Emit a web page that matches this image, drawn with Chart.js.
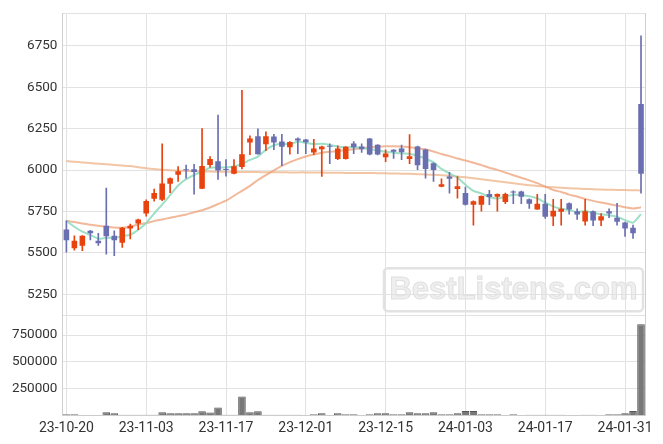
<!DOCTYPE html>
<html>
<head>
<meta charset="utf-8">
<script src="https://cdn.jsdelivr.net/npm/chart.js@4.4.1/dist/chart.umd.min.js"></script>
<style>
  html, body { margin: 0; padding: 0; background: #fff; }
</style>
</head>
<body>
<canvas id="chart" width="663" height="444"></canvas>
<script>
const dates = [
  '23-10-20','23-10-23','23-10-24','23-10-25','23-10-26','23-10-27','23-10-30','23-10-31','23-11-01','23-11-02',
  '23-11-03','23-11-06','23-11-07','23-11-08','23-11-09','23-11-10','23-11-13','23-11-14','23-11-15','23-11-16',
  '23-11-17','23-11-20','23-11-21','23-11-22','23-11-23','23-11-24','23-11-27','23-11-28','23-11-29','23-11-30',
  '23-12-01','23-12-04','23-12-05','23-12-06','23-12-07','23-12-08','23-12-11','23-12-12','23-12-13','23-12-14',
  '23-12-15','23-12-18','23-12-19','23-12-20','23-12-21','23-12-22','23-12-26','23-12-27','23-12-28','24-01-02',
  '24-01-03','24-01-04','24-01-05','24-01-08','24-01-09','24-01-10','24-01-11','24-01-12','24-01-15','24-01-16',
  '24-01-17','24-01-18','24-01-19','24-01-22','24-01-23','24-01-24','24-01-25','24-01-26','24-01-29','24-01-30',
  '24-01-31','24-02-01','24-02-02'
];

const opens = [
  5642,5528,5543,5634,5574,5664,5603,5561,5648,5678,
  5738,5827,5821,5917,5971,6005,6005,5887,6030,6053,
  6007,5977,6019,6166,6204,6156,6202,6172,6138,6190,
  6184,6106,6126,6146,6066,6066,6160,6142,6190,6152,
  6078,6122,6130,6066,6142,6124,6041,5899,5961,5885,
  5861,5791,5791,5855,5839,5808,5871,5871,5824,5762,
  5796,5720,5748,5800,5752,5690,5752,5696,5752,5712,
  5684,5652,6399
];
const highs = [
  5694,5603,5605,5636,5618,5891,5634,5655,5674,5704,
  5820,5885,6158,5953,6021,6030,6035,6250,6082,6332,
  6063,6063,6481,6206,6248,6230,6216,6216,6172,6194,
  6186,6186,6145,6158,6146,6142,6172,6158,6192,6154,
  6122,6124,6150,6214,6145,6126,6043,5947,5987,5961,
  5897,5814,5845,5877,5857,5861,5875,5873,5826,5853,
  5853,5824,5824,5802,5766,5824,5754,5738,5766,5800,
  5686,5668,6810
];
const lows = [
  5504,5516,5513,5579,5545,5493,5483,5533,5585,5640,
  5722,5812,5815,5863,5931,5951,5854,5887,6017,5943,
  5963,5977,6007,6093,6096,6117,6123,6027,6096,6099,
  6099,6093,5961,6039,6063,6066,6099,6106,6092,6092,
  6051,6070,6063,6039,6003,5951,5931,5899,5860,5831,
  5788,5668,5752,5791,5752,5797,5797,5797,5768,5762,
  5708,5664,5668,5734,5702,5668,5664,5664,5712,5668,
  5600,5588,5861
];
const closes = [
  5576,5574,5603,5618,5558,5600,5576,5652,5664,5702,
  5813,5861,5919,5951,5993,5999,5989,6025,6066,5997,
  6001,6023,6096,6190,6096,6204,6166,6140,6170,6178,
  6168,6130,6142,6140,6130,6140,6138,6126,6094,6094,
  6100,6111,6108,6084,6029,6007,6001,5915,5947,5903,
  5791,5812,5843,5837,5855,5855,5865,5839,5796,5796,
  5718,5754,5766,5762,5732,5752,5696,5722,5738,5688,
  5648,5618,5977
];
const volumes = [
  9000,9000,2000,2000,2000,28000,18000,6000,6000,6000,
  6000,6000,28000,18000,18000,18000,18000,37000,25000,74000,
  6000,6000,176000,28000,37000,6000,6000,6000,6000,6000,
  2000,9000,18000,2000,18000,9000,9000,2000,9000,18000,
  18000,9000,9000,28000,18000,18000,28000,9000,9000,18000,
  40000,40000,9000,9000,9000,2000,9000,2000,6000,6000,
  6000,6000,6000,2000,2000,6000,6000,2000,9000,9000,
  18000,40000,852000
];
const ma5 = [
  5694,5658,5628,5608,5586,5591,5591,5601,5610,5639,
  5681,5738,5792,5849,5907,5945,5970,5991,6014,6015,
  6016,6022,6037,6061,6081,6122,6150,6159,6155,6172,
  6164,6157,6158,6152,6142,6136,6138,6135,6126,6118,
  6110,6105,6101,6099,6086,6068,6046,6007,5980,5955,
  5911,5874,5859,5837,5828,5840,5851,5850,5842,5830,
  5803,5781,5766,5759,5746,5753,5742,5733,5728,5719,
  5698,5683,5734
];
const ma20 = [
  5694,5686,5678,5670,5664,5658,5653,5652,5658,5672,
  5680,5692,5702,5712,5722,5732,5745,5758,5774,5795,
  5815,5845,5875,5905,5940,5970,5998,6025,6048,6066,
  6082,6094,6104,6110,6115,6120,6126,6132,6137,6141,
  6143,6143,6142,6138,6132,6124,6112,6097,6084,6070,
  6058,6044,6030,6014,6001,5985,5969,5954,5938,5921,
  5900,5880,5868,5852,5840,5826,5814,5804,5795,5786,
  5775,5768,5775
];
const ma60 = [
  6054,6050,6046,6042,6038,6035,6031,6028,6024,6017,
  6011,6006,6002,5999,5997,5995,5993,5992,5991,5990,
  5990,5989,5989,5988,5988,5987,5987,5987,5986,5986,
  5986,5985,5985,5984,5984,5983,5983,5982,5982,5981,
  5980,5979,5978,5977,5975,5973,5971,5968,5965,5961,
  5956,5950,5944,5938,5932,5926,5920,5914,5909,5904,
  5900,5896,5893,5890,5888,5886,5884,5882,5881,5880,
  5879,5878,5877
];
const priceTicks = [5250, 5500, 5750, 6000, 6250, 6500, 6750];
const volumeTicks = [250000, 500000, 750000];
const priceMin = 5124, priceMax = 6947;
const volumeMax = 935000;

const UP = 'rgb(232,66,14)';
const DOWN = 'rgb(106,111,178)';
const GRID = '#e2e2e2';
const BORDER = '#cfcfcf';
const candleColors = closes.map((c, i) => c >= opens[i] ? UP : DOWN);

const fontTick = { family: 'Roboto', size: 13.5 };

// watermark behind grid, frame on the right edge
const extras = {
  id: 'extras',
  beforeDraw(chart) {
    const { ctx, chartArea } = chart;
    const pane = chart.scales.y;
    const w = 259, h = 43;
    const x = chartArea.right - 2 - w;
    const y = pane.bottom - 4 - h;
    ctx.save();
    ctx.strokeStyle = '#e2e2e2';
    ctx.lineWidth = 2.5;
    ctx.beginPath();
    ctx.roundRect(x, y, w, h, 4);
    ctx.stroke();
    ctx.font = 'bold 31px "Liberation Sans", Arial, sans-serif';
    ctx.textAlign = 'center';
    ctx.textBaseline = 'middle';
    ctx.fillStyle = '#efefef';
    ctx.strokeStyle = '#e0e0e0';
    ctx.lineWidth = 1;
    ctx.fillText('BestListens.com', x + w / 2, y + h / 2 + 1);
    ctx.strokeText('BestListens.com', x + w / 2, y + h / 2 + 1);
    ctx.restore();
  },
  afterDatasetsDraw(chart) {
    const { ctx, chartArea } = chart;
    ctx.save();
    ctx.strokeStyle = BORDER;
    ctx.lineWidth = 1;
    ctx.beginPath();
    ctx.moveTo(Math.round(chartArea.right) + 0.5, chartArea.top);
    ctx.lineTo(Math.round(chartArea.right) + 0.5, chartArea.bottom);
    ctx.stroke();
    ctx.restore();
  }
};

new Chart(document.getElementById('chart'), {
  data: {
    labels: dates,
    datasets: [
      { type: 'bar', data: opens.map((o, i) => [o, closes[i]]), yAxisID: 'y', backgroundColor: candleColors,
        barPercentage: 0.7, categoryPercentage: 1, grouped: false, minBarLength: 1, order: 0 },
      { type: 'bar', data: lows.map((l, i) => [l, highs[i]]), yAxisID: 'y', backgroundColor: candleColors,
        barThickness: 1, grouped: false, order: 1 },
      { type: 'line', data: ma5, yAxisID: 'y', borderColor: 'rgba(140,218,188,0.85)', borderWidth: 2,
        pointRadius: 0, tension: 0.2, order: 2 },
      { type: 'line', data: ma20, yAxisID: 'y', borderColor: 'rgba(236,160,120,0.75)', borderWidth: 2,
        pointRadius: 0, tension: 0.2, order: 3 },
      { type: 'line', data: ma60, yAxisID: 'y', borderColor: 'rgba(238,178,135,0.75)', borderWidth: 2,
        pointRadius: 0, tension: 0.2, order: 4 },
      { type: 'bar', data: volumes, yAxisID: 'vol', backgroundColor: '#787878', borderColor: '#555',
        borderWidth: 1, barPercentage: 0.95, categoryPercentage: 1, grouped: false, order: 5 }
    ]
  },
  options: {
    responsive: false,
    animation: false,
    events: [],
    layout: { padding: { top: 9, right: 18, left: 0, bottom: 0 } },
    plugins: { legend: { display: false }, tooltip: { enabled: false } },
    scales: {
      x: {
        type: 'category',
        offset: true,
        grid: { offset: false, drawTicks: false, color: c => c.index % 10 === 0 ? GRID : 'transparent' },
        border: { color: BORDER },
        ticks: {
          autoSkip: false, maxRotation: 0, padding: 5, color: '#333', font: { family: 'Roboto', size: 14 },
          callback: (v, i) => i % 10 === 0 ? dates[i] : ''
        },
        afterFit: s => { s.height = 28.7; }
      },
      vol: {
        type: 'linear', position: 'left', stack: 'panes', stackWeight: 1,
        min: 0, max: volumeMax,
        grid: { drawTicks: false, color: GRID },
        border: { color: BORDER },
        ticks: { autoSkip: false, padding: 5, color: '#333', font: fontTick,
          callback: v => volumeTicks.includes(v) ? String(v) : '' },
        afterBuildTicks: s => { s.ticks = volumeTicks.concat([volumeMax]).map(v => ({ value: v })); },
        afterFit: s => { s.width = 62.4; }
      },
      y: {
        type: 'linear', position: 'left', stack: 'panes', stackWeight: 3.02,
        min: priceMin, max: priceMax,
        grid: { drawTicks: false, color: GRID },
        border: { color: BORDER },
        ticks: { autoSkip: false, padding: 5, color: '#333', font: fontTick,
          callback: v => priceTicks.includes(v) ? String(v) : '' },
        afterBuildTicks: s => { s.ticks = priceTicks.concat([priceMax]).map(v => ({ value: v })); },
        afterFit: s => { s.width = 62.4; }
      }
    }
  },
  plugins: [extras]
});
</script>
</body>
</html>
